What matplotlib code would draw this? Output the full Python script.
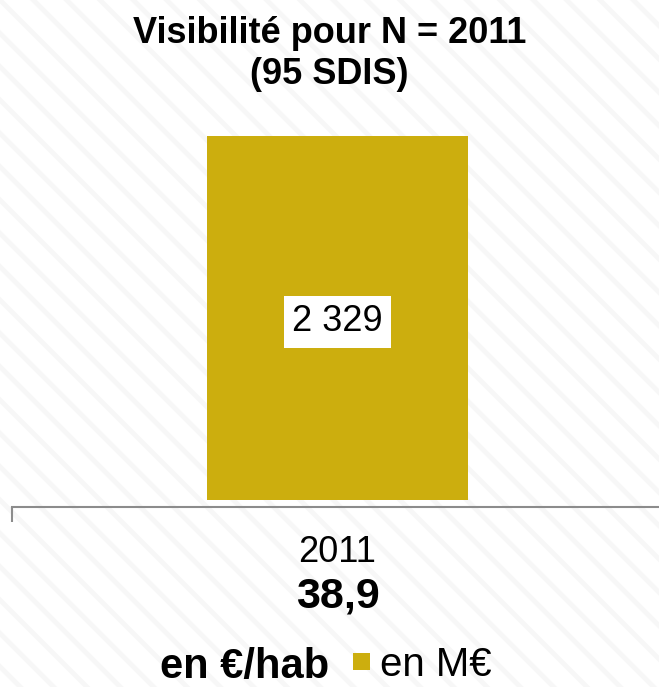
import matplotlib.pyplot as plt
from matplotlib.patches import Rectangle

# data
years = ["2011"]
values_meur = [2329]
per_hab = ["38,9"]
title = "Visibilité pour N = 2011\n(95 SDIS)"
bar_color = "#CCAE0E"

plt.rcParams['font.family'] = ['Liberation Sans', 'DejaVu Sans']
plt.rcParams['hatch.linewidth'] = 3.5
plt.rcParams['hatch.color'] = '#f7f7f7'

fig = plt.figure(figsize=(6.59, 6.87), dpi=100)

# faint striped background
bg = fig.add_axes([0, 0, 1, 1])
bg.add_patch(Rectangle((0, 0), 1, 1, facecolor='white', edgecolor='#f7f7f7',
                       hatch='\\', linewidth=0, transform=bg.transAxes))
bg.set_axis_off()

W, H = 659, 687
ax = fig.add_axes([12 / W, 1 - 507 / H, 651 / W, (507 - 130) / H])
ax.patch.set_visible(False)

bars = ax.bar(range(len(years)), values_meur, width=0.4, color=bar_color)
ax.set_xlim(-0.5, len(years) - 0.5)
ax.set_ylim(-45, 2367)

for b, v in zip(bars, values_meur):
    label = f"{v:,}".replace(",", " ")
    ax.text(b.get_x() + b.get_width() / 2, v / 2 - 25, label, ha='center', va='center',
            fontsize=26, color='black',
            bbox=dict(facecolor='white', edgecolor='none', pad=6))

for s in ['top', 'right', 'left']:
    ax.spines[s].set_visible(False)
ax.spines['bottom'].set_color('#8c8c8c')
ax.spines['bottom'].set_linewidth(1.5)
ax.set_yticks([])
ax.set_xticks([-0.5])
ax.set_xticklabels([''])
ax.tick_params(axis='x', length=11, width=1.5, color='#8c8c8c')

for i, (yr, ph) in enumerate(zip(years, per_hab)):
    xc = (12 + 651 * (i + 0.5) / len(years)) / W
    fig.text(xc, 1 - 552 / H, yr, ha='center', va='center', fontsize=26)
    fig.text(xc, 1 - 597 / H, ph, ha='center', va='center', fontsize=31,
             fontweight='bold')

fig.text(0.5, 1 - 54 / H, title, ha='center', va='center', fontsize=26,
         fontweight='bold', linespacing=1.2)

# legend row
fig.text(245 / W, 1 - 667 / H, "en €/hab", ha='center', va='center',
         fontsize=30, fontweight='bold')
fig.patches.append(Rectangle((353 / W, 1 - 670 / H), 17 / W, 17 / H,
                             facecolor=bar_color, edgecolor='none',
                             transform=fig.transFigure, figure=fig))
fig.text(380 / W, 1 - 665 / H, "en M€", ha='left', va='center', fontsize=29)

fig.savefig('out.png', dpi=100)
